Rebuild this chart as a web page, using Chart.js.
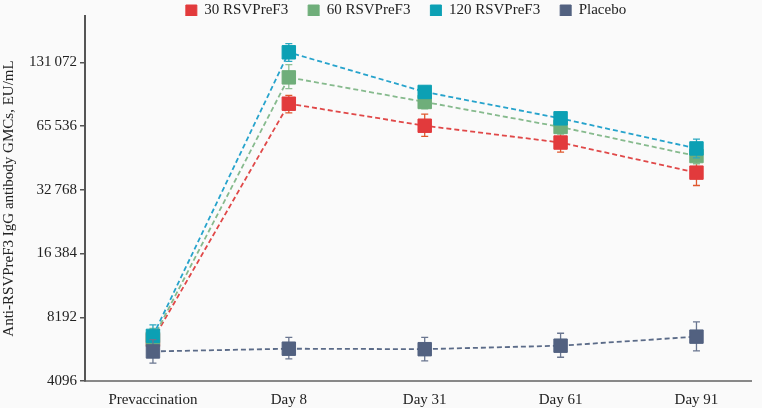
<!DOCTYPE html>
<html>
<head>
    <title>Anti-RSVPreF3 IgG GMCs</title>
    <script src="https://cdn.jsdelivr.net/npm/chart.js"></script>
    <style>
        html, body { margin: 0; padding: 0; background: #fafafa; }
        #wrap { width: 762px; height: 408px; }
    </style>
</head>
<body>
    <div id="wrap"><canvas id="gmcChart"></canvas></div>

    <script>
        const timepoints = ['Prevaccination', 'Day 8', 'Day 31', 'Day 61', 'Day 91'];
        const yTicks = [4096, 8192, 16384, 32768, 65536, 131072];

        const rsv30 = [6400, 83600, 65800, 54800, 39500];
        const rsv30Lo = [5700, 75600, 58600, 49400, 34350];
        const rsv30Hi = [7150, 91500, 74700, 60900, 45500];

        const rsv60 = [6490, 111300, 85200, 64900, 47300];
        const rsv60Lo = [5800, 98400, 79000, 60000, 43500];
        const rsv60Hi = [7250, 127900, 92000, 70000, 51500];

        const rsv120 = [6690, 146200, 95000, 71300, 51400];
        const rsv120Lo = [5930, 132500, 89000, 67000, 46400];
        const rsv120Hi = [7540, 160800, 101000, 76000, 56900];

        const placebo = [5650, 5820, 5790, 6015, 6635];
        const placeboLo = [4970, 5205, 5093, 5302, 5678];
        const placeboHi = [6420, 6590, 6590, 6885, 7787];

        const serif = "'Liberation Serif', 'DejaVu Serif', serif";

        function fmt(v) {
            const s = String(v);
            return v >= 10000 ? s.slice(0, -3) + '\u2009' + s.slice(-3) : s;
        }

        function series(label, vals, lo, hi, mark, line, err, order) {
            return {
                label: label,
                data: vals.map((v, i) => ({ x: i, y: v })),
                lo: lo,
                hi: hi,
                errColor: err,
                order: order,
                borderColor: line,
                backgroundColor: mark,
                borderWidth: 1.8,
                borderDash: [5, 3],
                pointStyle: 'rect',
                pointRadius: 9.5,
                pointHoverRadius: 9.5,
                pointBackgroundColor: mark,
                pointBorderColor: mark,
                pointBorderWidth: 1,
                fill: false
            };
        }

        // error bars drawn just under each dataset's markers
        const errorBars = {
            id: 'errorBars',
            beforeDatasetDraw(chart, args) {
                const ds = chart.data.datasets[args.index];
                const y = chart.scales.y;
                const ctx = chart.ctx;
                ctx.save();
                ctx.strokeStyle = ds.errColor;
                ctx.lineWidth = 1.3;
                args.meta.data.forEach((pt, i) => {
                    const top = y.getPixelForValue(ds.hi[i]);
                    const bot = y.getPixelForValue(ds.lo[i]);
                    ctx.beginPath();
                    ctx.moveTo(pt.x, top); ctx.lineTo(pt.x, bot);
                    ctx.moveTo(pt.x - 3.5, top); ctx.lineTo(pt.x + 3.5, top);
                    ctx.moveTo(pt.x - 3.5, bot); ctx.lineTo(pt.x + 3.5, bot);
                    ctx.stroke();
                });
                ctx.restore();
            }
        };

        const legendShift = {
            id: 'legendShift',
            afterLayout(chart) {
                chart.legend.left += 26;
                chart.legend.right += 26;
            }
        };

        Chart.defaults.font.family = serif;
        Chart.defaults.font.size = 15;
        Chart.defaults.color = '#222';

        new Chart(document.getElementById('gmcChart'), {
            type: 'line',
            data: {
                datasets: [
                    series('30 RSVPreF3', rsv30, rsv30Lo, rsv30Hi, '#e23a3c', '#e04848', '#e0582e', 3),
                    series('60 RSVPreF3', rsv60, rsv60Lo, rsv60Hi, '#6fae7a', '#86ba8d', '#8fbf95', 2),
                    series('120 RSVPreF3', rsv120, rsv120Lo, rsv120Hi, '#0ca0b4', '#26a3cc', '#2aa8c0', 1),
                    series('Placebo', placebo, placeboLo, placeboHi, '#526180', '#5b6b88', '#6a7690', 0)
                ]
            },
            options: {
                responsive: true,
                maintainAspectRatio: false,
                animation: false,
                layout: { padding: { top: -17, left: 0, right: 2, bottom: 0 } },
                plugins: {
                    tooltip: { enabled: false },
                    legend: {
                        position: 'top',
                        maxHeight: 33,
                        labels: {
                            usePointStyle: true,
                            pointStyle: 'rect',
                            boxWidth: 11,
                            boxHeight: 11,
                            padding: 20,
                            font: { family: serif, size: 15 },
                            color: '#222',
                            sort: (a, b) => a.datasetIndex - b.datasetIndex
                        }
                    }
                },
                scales: {
                    x: {
                        type: 'linear',
                        min: -0.5,
                        max: 4.405,
                        afterBuildTicks: s => { s.ticks = timepoints.map((_, i) => ({ value: i })); },
                        ticks: { callback: v => timepoints[v], padding: 10, maxRotation: 0, autoSkip: false },
                        grid: { display: false, drawTicks: false },
                        border: { color: '#888', width: 2 },
                        afterFit: s => { s.height = 27; }
                    },
                    y: {
                        type: 'logarithmic',
                        min: 4096,
                        max: 217000,
                        afterBuildTicks: s => { s.ticks = yTicks.map(v => ({ value: v })); },
                        ticks: { callback: v => fmt(v), padding: 3, autoSkip: false },
                        grid: { drawOnChartArea: false, tickLength: 5, color: '#555', lineWidth: 1.5 },
                        border: { color: '#555', width: 2 },
                        title: { display: true, text: 'Anti-RSVPreF3 IgG antibody GMCs, EU/mL', padding: 0 },
                        afterFit: s => { s.width = 85; }
                    }
                }
            },
            plugins: [errorBars, legendShift]
        });
    </script>
</body>
</html>
